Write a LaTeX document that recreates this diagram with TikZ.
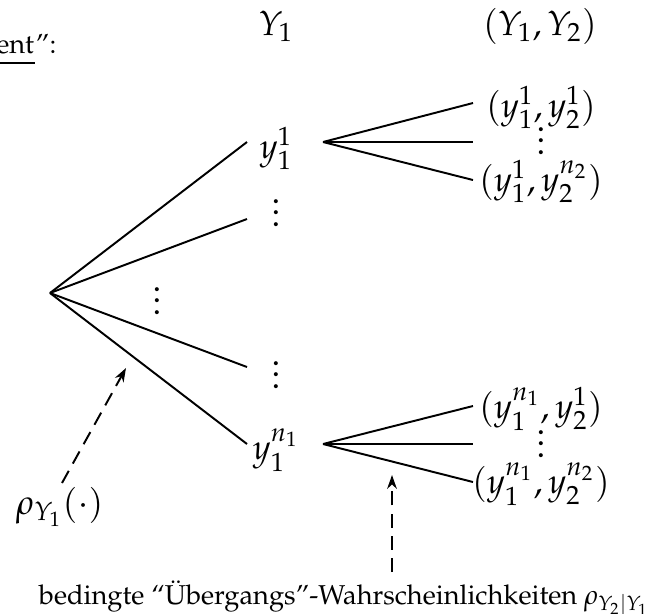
\documentclass[tikz,border=0pt]{standalone}
\usepackage[T1]{fontenc}
\usepackage{mathpazo}
\usetikzlibrary{arrows.meta}
\begin{document}
\begin{tikzpicture}[x=0.36pt,y=-0.36pt, line width=0.7pt,
  lbl/.style={inner sep=0pt, anchor=base, font=\fontsize{12.5}{15}\selectfont},
  txt/.style={inner sep=0pt, anchor=base west, font=\fontsize{9.8}{12}\selectfont},
  dasharrow/.style={dash pattern=on 5pt off 3pt, -{Stealth[length=5pt,width=3.5pt]}}]
\useasboundingbox (0,0) rectangle (654,613);
% headers
\node[txt, anchor=base east] (hd) at (35,53) {ent};
\node[txt] (hq) at (hd.base east) {'':};
\draw[line width=1pt] ([yshift=-3.6pt]hd.base west) -- ([yshift=-3.6pt]hd.base east);
\node[lbl] (hY1) at (276,35) {$Y_1$};
\node[lbl] (hY12) at (540,35) {$(Y_1,Y_2)$};
% first level
\coordinate (root) at (50,293);
\coordinate (e1) at (247,142);
\coordinate (e2) at (247,219);
\coordinate (e3) at (247,367);
\coordinate (e4) at (247,444);
\draw (root) -- (e1);
\draw (root) -- (e2);
\draw (root) -- (e3);
\draw (root) -- (e4);
\node[lbl] (y11) at (276,158) {$y_1^1$};
\node[lbl] (y1n) at (276,459) {$y_1^{n_1}$};
\node[lbl] (vd1) at (276,226) {$\vdots$};
\node[lbl] (vd2) at (276,388) {$\vdots$};
\node[lbl] (vdm) at (157,314) {$\vdots$};
% upper branches
\coordinate (b1) at (323,142);
\coordinate (u1) at (473,103);
\coordinate (u2) at (473,142);
\coordinate (u3) at (473,180);
\draw (b1) -- (u1);
\draw (b1) -- (u2);
\draw (b1) -- (u3);
\node[lbl] (l11) at (541,117) {$(y_1^1,y_2^1)$};
\node[lbl] (l1d) at (541,154) {$\vdots$};
\node[lbl] (l12) at (541,191) {$(y_1^1,y_2^{n_2})$};
% lower branches
\coordinate (b2) at (323,444);
\coordinate (w1) at (473,406);
\coordinate (w2) at (473,444);
\coordinate (w3) at (473,482);
\draw (b2) -- (w1);
\draw (b2) -- (w2);
\draw (b2) -- (w3);
\node[lbl] (l21) at (541,418) {$(y_1^{n_1},y_2^1)$};
\node[lbl] (l2d) at (541,457) {$\vdots$};
\node[lbl] (l22) at (541,493) {$(y_1^{n_1},y_2^{n_2})$};
% annotations
\node[lbl, anchor=base west] (rho) at (15,514) {$\rho_{Y_1}(\cdot)$};
\coordinate (a1s) at (62,483);
\coordinate (a1t) at (126,368);
\draw[dasharrow] (a1s) -- (a1t);
\node[txt] (cond) at (38,604) {bedingte ``\"Ubergangs''-Wahrscheinlichkeiten $\rho_{Y_2|Y_1}$};
\coordinate (a2s) at (392,572);
\coordinate (a2t) at (392,475);
\draw[dasharrow] (a2s) -- (a2t);
\end{tikzpicture}
\end{document}
